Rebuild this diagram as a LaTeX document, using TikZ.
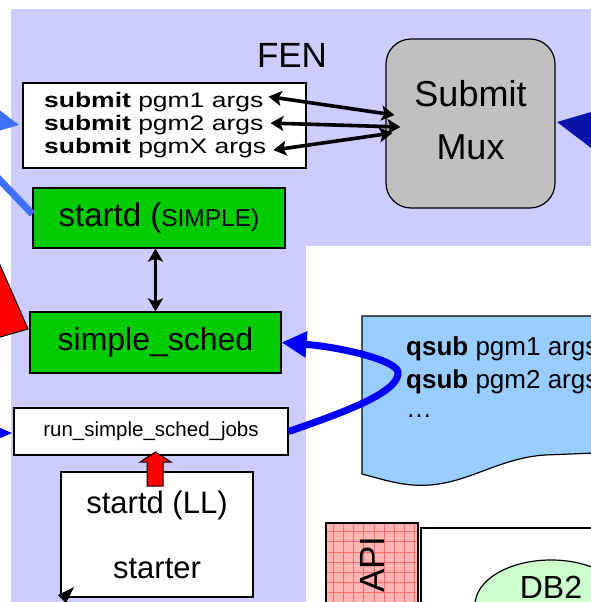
\documentclass[tikz,border=0pt]{standalone}
\usepackage{fontspec}
\setmainfont{Liberation Sans}
\usetikzlibrary{arrows.meta,shapes.geometric}
\definecolor{lav}{HTML}{CCCCFF}
\definecolor{grn}{HTML}{00CC00}
\definecolor{muxgray}{HTML}{C0C0C0}
\definecolor{dkblue}{HTML}{0A14AA}
\definecolor{docblue}{HTML}{99CCFF}
\definecolor{lblue}{HTML}{3F6FFF}
\definecolor{apipink}{HTML}{FFB4B4}
\definecolor{apigrid}{HTML}{FF6A6A}
\definecolor{dbgreen}{HTML}{CCFFCC}
\newcommand\fsz[2]{\fontsize{#1}{#2}\selectfont}
\begin{document}
\begin{tikzpicture}[x=1pt,y=-1pt,
  box/.style={draw=black, line width=1.2pt, inner sep=0pt},
  greenbox/.style={box, fill=grn},
  dbl/.style={line width=3.6pt, {Stealth[length=13pt,width=15pt,inset=3pt]}-{Stealth[length=13pt,width=15pt,inset=3pt]}},
  subline/.style={anchor=base west, inner sep=0pt, font=\fsz{21}{23}},
  qline/.style={anchor=base west, inner sep=0pt, font=\fsz{26}{33}},
]
\useasboundingbox (0,0) rectangle (591,602);
\clip (0,0) rectangle (591,602);
\fill[white] (0,0) rectangle (591,602);
% panels
\fill[lav] (11,9) rectangle (306,610);
\fill[lav] (306,9) rectangle (600,246);

\node[anchor=base, inner sep=0pt, font=\fsz{35}{40}] (fen) at (292,67) {FEN};

% submit box
\node[box, fill=white, minimum width=283, minimum height=85] (sub) at (164.5,125.5) {};
\node[subline] (s1) at (44,107) {\scalebox{1.26}[1]{\textbf{submit} pgm1 args}};
\node[subline] (s2) at (44,130) {\scalebox{1.26}[1]{\textbf{submit} pgm2 args}};
\node[subline] (s3) at (44,153) {\scalebox{1.26}[1]{\textbf{submit} pgmX args}};

% Submit Mux
\node[box, fill=muxgray, rounded corners=25pt, minimum width=169, minimum height=169,
      align=center, font=\fsz{36}{53}] (mux) at (470.5,123.5) {Submit\\Mux\vphantom{g}};

\draw[dbl] ([shift={(5,-5)}]s1.east) -- ([shift={(9,-8.5)}]mux.west);
\draw[dbl] ([shift={(7,-1.5)}]s2.east) -- ([shift={(15,3.5)}]mux.west);
\draw[dbl] ([shift={(7,2.5)}]s3.east) -- ([shift={(7,9.5)}]mux.west);

% dark blue arrowhead entering mux from the right
\fill[dkblue] (557,122) -- (620,103.5) -- (620,170) -- cycle;

% left blue arrowhead into submit box
\fill[lblue] (-2,109) -- (19,125) -- (-2,131) -- cycle;

% startd (SIMPLE)
\node[greenbox, minimum width=252, minimum height=60, font=\fsz{33}{36}] (startd) at (159,218)
  {startd ({\fsz{24.5}{28}SIMPLE)}};
\draw[lblue, line width=7pt] (-5,175) -- ([yshift=4]startd.west);

% simple_sched
\node[greenbox, minimum width=251, minimum height=61, font=\fsz{32}{36}] (simple) at (155.5,342.5)
  {simple\_sched};
\draw[dbl] (simple.north |- startd.south) -- (simple.north);

% red triangle on the left
\filldraw[fill=red, draw=black, line width=1pt] (-10,242) -- (28,329) -- (-10,340) -- cycle;

% run_simple_sched_jobs
\node[box, fill=white, minimum width=274, minimum height=47, font=\fsz{20.5}{24}] (run) at (151,431.5)
  {run\_simple\_sched\_jobs};
\fill[blue] (-2,427) -- (12,433) -- (-2,439) -- cycle;

% qsub document
\filldraw[fill=docblue, draw=black, line width=1.2pt]
  (620,316) -- (362,316) -- (362,474)
  .. controls (385,480) and (405,487) .. (430,485)
  .. controls (470,482) and (500,458) .. (545,455) -- (620,452);
\fill[docblue] (362.6,316.6) rectangle (620,451);
\node[qline] (q1) at (406,355) {\textbf{qsub} pgm1 args};
\node[qline] (q2) at (406,388) {\textbf{qsub} pgm2 args};
\node[qline] (q3) at (406,417) {\dots};

% blue loop arrow
\draw[blue, line width=7pt, -{Triangle[length=25pt,width=25pt]}]
  (run.east) .. controls (345,412) and (400,392) .. (398,372)
  .. controls (396,360) and (340,347) .. (simple.east);

% startd (LL)
\node[box, fill=white, minimum width=192, minimum height=125, align=center, font=\fsz{31}{65}] (ll)
  at (157,534.5) {startd (LL)\\starter};
\filldraw[fill=red, draw=black, line width=1pt]
  (147,486) -- (147,462) -- (140,462) -- (155.5,452) -- (171,462) -- (163,462) -- (163,486) -- cycle;
\fill[black] (58,595) -- (74,587) -- (66,603) -- cycle;

% API
\node[draw=black, line width=1.2pt, fill=apipink, rotate=90, minimum width=83, minimum height=92,
      inner sep=0pt, font=\fsz{35}{40},
      path picture={\draw[apigrid, line width=0.5pt, step=10.2pt]
        (path picture bounding box.south west) grid (path picture bounding box.north east);}]
  (api) at (372,564.5) {API};

% DB box
\node[draw=black, line width=1.8pt, fill=white, minimum width=200, minimum height=100, anchor=north west]
  (dbbox) at (420,527) {};
\node[ellipse, draw=black, line width=1.2pt, fill=dbgreen, minimum width=152, minimum height=90]
  (db2) at (551,605) {};
\node[anchor=base, inner sep=0pt, font=\fsz{32}{36}] (db2t) at (551,598) {DB2};
\end{tikzpicture}
\end{document}
